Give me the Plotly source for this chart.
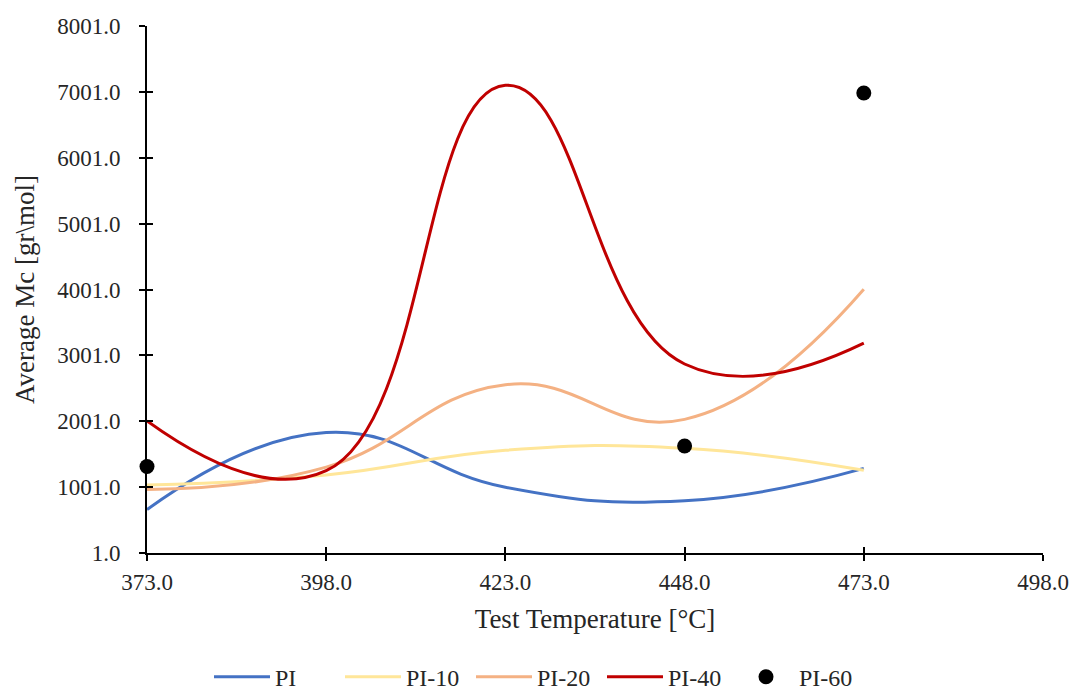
import plotly.graph_objects as go

# Test temperatures [°C]
temps = [373.0, 398.0, 423.0, 448.0, 473.0]

# Average Mc [gr\mol] per sample
mc_pi = [660, 1830, 1000, 795, 1285]
mc_pi10 = [1035, 1185, 1560, 1590, 1256]
mc_pi20 = [965, 1305, 2555, 2030, 4006]
mc_pi40 = [2005, 1250, 7100, 2870, 3186]

# PI-60 was measured at three temperatures only
temps_pi60 = [373.0, 448.0, 473.0]
mc_pi60 = [1315, 1625, 6985]

x_ticks = [373.0, 398.0, 423.0, 448.0, 473.0, 498.0]
y_ticks = [1.0, 1001.0, 2001.0, 3001.0, 4001.0, 5001.0, 6001.0, 7001.0, 8001.0]

FONT = "Liberation Serif, Times New Roman, serif"
TEXT = "#262626"

fig = go.Figure()

series = [
    ("PI", mc_pi, "#4472C4"),
    ("PI-10", mc_pi10, "#FFE699"),
    ("PI-20", mc_pi20, "#F4B183"),
    ("PI-40", mc_pi40, "#C00000"),
]
for name, vals, color in series:
    fig.add_trace(go.Scatter(
        x=temps, y=vals, name=name, mode="lines",
        line=dict(color=color, width=3, shape="spline", smoothing=1.3),
    ))

fig.add_trace(go.Scatter(
    x=temps_pi60, y=mc_pi60, name="PI-60", mode="markers",
    marker=dict(color="black", size=15),
    cliponaxis=False,
))

# empty trace that carries the inner half of the crossing tick marks
fig.add_trace(go.Scatter(x=[], y=[], xaxis="x2", yaxis="y2",
                         showlegend=False, hoverinfo="skip"))

axis_common = dict(
    showgrid=False, zeroline=False, showline=True, linecolor="black",
    linewidth=2, ticks="outside", ticklen=6, tickwidth=2, tickcolor="black",
    tickfont=dict(family=FONT, size=23, color=TEXT),
    title_font=dict(family=FONT, size=27, color=TEXT),
    automargin=False,
)

fig.update_layout(
    width=1073, height=691,
    margin=dict(l=147, r=30, t=26, b=138),
    paper_bgcolor="white", plot_bgcolor="white",
    xaxis=dict(
        range=[373, 498], tickvals=x_ticks,
        ticktext=[f"{v:.1f}" for v in x_ticks],
        title=dict(text="Test Temperature [°C]", standoff=16),
        ticklabelstandoff=1,
        **axis_common,
    ),
    yaxis=dict(
        range=[1, 8001], tickvals=y_ticks,
        ticktext=[f"{v:.1f}" for v in y_ticks],
        title=dict(text="Average Mc [gr\\mol]", standoff=15),
        ticklabelstandoff=14,
        **axis_common,
    ),
    xaxis2=dict(range=[373, 498], overlaying="x", anchor="y2", tickvals=x_ticks,
                showticklabels=False, showgrid=False, zeroline=False,
                showline=False, ticks="inside", ticklen=6, tickwidth=2,
                tickcolor="black", automargin=False),
    yaxis2=dict(range=[1, 8001], overlaying="y", anchor="x2", tickvals=y_ticks,
                showticklabels=False, showgrid=False, zeroline=False,
                showline=False, ticks="inside", ticklen=6, tickwidth=2,
                tickcolor="black", automargin=False),
    legend=dict(
        orientation="h", xref="container", yref="container",
        x=0.5, xanchor="center", y=0.02, yanchor="middle",
        font=dict(family=FONT, size=24, color=TEXT),
        itemwidth=56, entrywidth=60, entrywidthmode="pixels",
        tracegroupgap=0,
    ),
    showlegend=True,
)

fig.write_html("out.html")
